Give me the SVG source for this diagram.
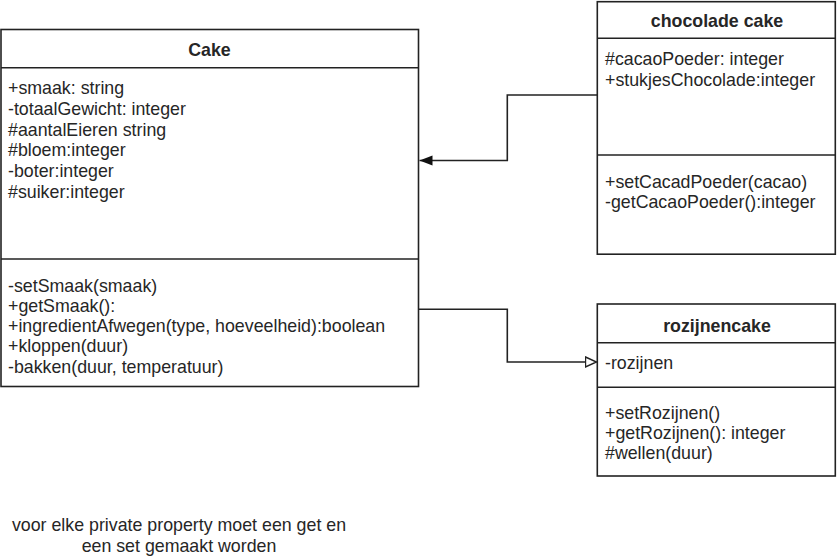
<svg xmlns="http://www.w3.org/2000/svg" width="837" height="557" viewBox="0 0 837 557">
<style>
.box{fill:#fff;stroke:#222;stroke-width:1.6}
.ln{stroke:#222;stroke-width:1.6;fill:none}
.t{font-family:"Liberation Sans",Arial,sans-serif;font-size:17.8px;fill:#262626}
.h{font-family:"Liberation Sans",Arial,sans-serif;font-size:17.8px;font-weight:bold;fill:#262626;text-anchor:middle}
.c{text-anchor:middle}
</style>
<defs>
<marker id="fill" markerWidth="14" markerHeight="12" refX="13" refY="6" orient="auto" markerUnits="userSpaceOnUse">
<path d="M0,1 L13,6 L0,11 Z" fill="#111"/>
</marker>
<marker id="open" markerWidth="14" markerHeight="12" refX="12" refY="6" orient="auto" markerUnits="userSpaceOnUse">
<path d="M1,1 L12,6 L1,11 Z" fill="#fff" stroke="#222" stroke-width="1.4"/>
</marker>
</defs>
<rect width="837" height="557" fill="#fff"/>
<g id="cake">
<rect class="box" x="1" y="29.5" width="417.5" height="357"/>
<line class="ln" x1="1" y1="67.7" x2="418.5" y2="67.7"/>
<line class="ln" x1="1" y1="259" x2="418.5" y2="259"/>
<text class="h" x="209.5" y="56">Cake</text>
<text class="t" x="8" y="94">+smaak: string</text>
<text class="t" x="8" y="114.8">-totaalGewicht: integer</text>
<text class="t" x="8" y="135.6">#aantalEieren string</text>
<text class="t" x="8" y="156.4">#bloem:integer</text>
<text class="t" x="8" y="177.2">-boter:integer</text>
<text class="t" x="8" y="198">#suiker:integer</text>
<text class="t" x="8" y="291.5">-setSmaak(smaak)</text>
<text class="t" x="8" y="311.8">+getSmaak():</text>
<text class="t" x="8" y="332">+ingredientAfwegen(type, hoeveelheid):boolean</text>
<text class="t" x="8" y="352.3">+kloppen(duur)</text>
<text class="t" x="8" y="372.5">-bakken(duur, temperatuur)</text>
</g>
<g id="chocolade-cake">
<rect class="box" x="597.3" y="1.7" width="238" height="252.5"/>
<line class="ln" x1="597.3" y1="38.3" x2="835.3" y2="38.3"/>
<line class="ln" x1="597.3" y1="155" x2="835.3" y2="155"/>
<text class="h" x="717" y="27">chocolade cake</text>
<text class="t" x="605" y="65">#cacaoPoeder: integer</text>
<text class="t" x="605" y="85.5">+stukjesChocolade:integer</text>
<text class="t" x="605" y="187.5">+setCacadPoeder(cacao)</text>
<text class="t" x="605" y="207.5">-getCacaoPoeder():integer</text>
</g>
<g id="rozijnencake">
<rect class="box" x="597.3" y="304" width="238" height="172"/>
<line class="ln" x1="597.3" y1="342.7" x2="835.3" y2="342.7"/>
<line class="ln" x1="597.3" y1="387.3" x2="835.3" y2="387.3"/>
<text class="h" x="717" y="332">rozijnencake</text>
<text class="t" x="605" y="368.5">-rozijnen</text>
<text class="t" x="605" y="419">+setRozijnen()</text>
<text class="t" x="605" y="438.5">+getRozijnen(): integer</text>
<text class="t" x="605" y="458.5">#wellen(duur)</text>
</g>
<g id="connectors">
<polyline class="ln" points="597.3,95 507.3,95 507.3,160.5 419.5,160.5" marker-end="url(#fill)"/>
<polyline class="ln" points="418.5,309.3 507.3,309.3 507.3,362 596.5,362" marker-end="url(#open)"/>
</g>
<g id="note">
<text class="t c" x="179" y="531">voor elke private property moet een get en</text>
<text class="t c" x="179" y="552">een set gemaakt worden</text>
</g>
</svg>
